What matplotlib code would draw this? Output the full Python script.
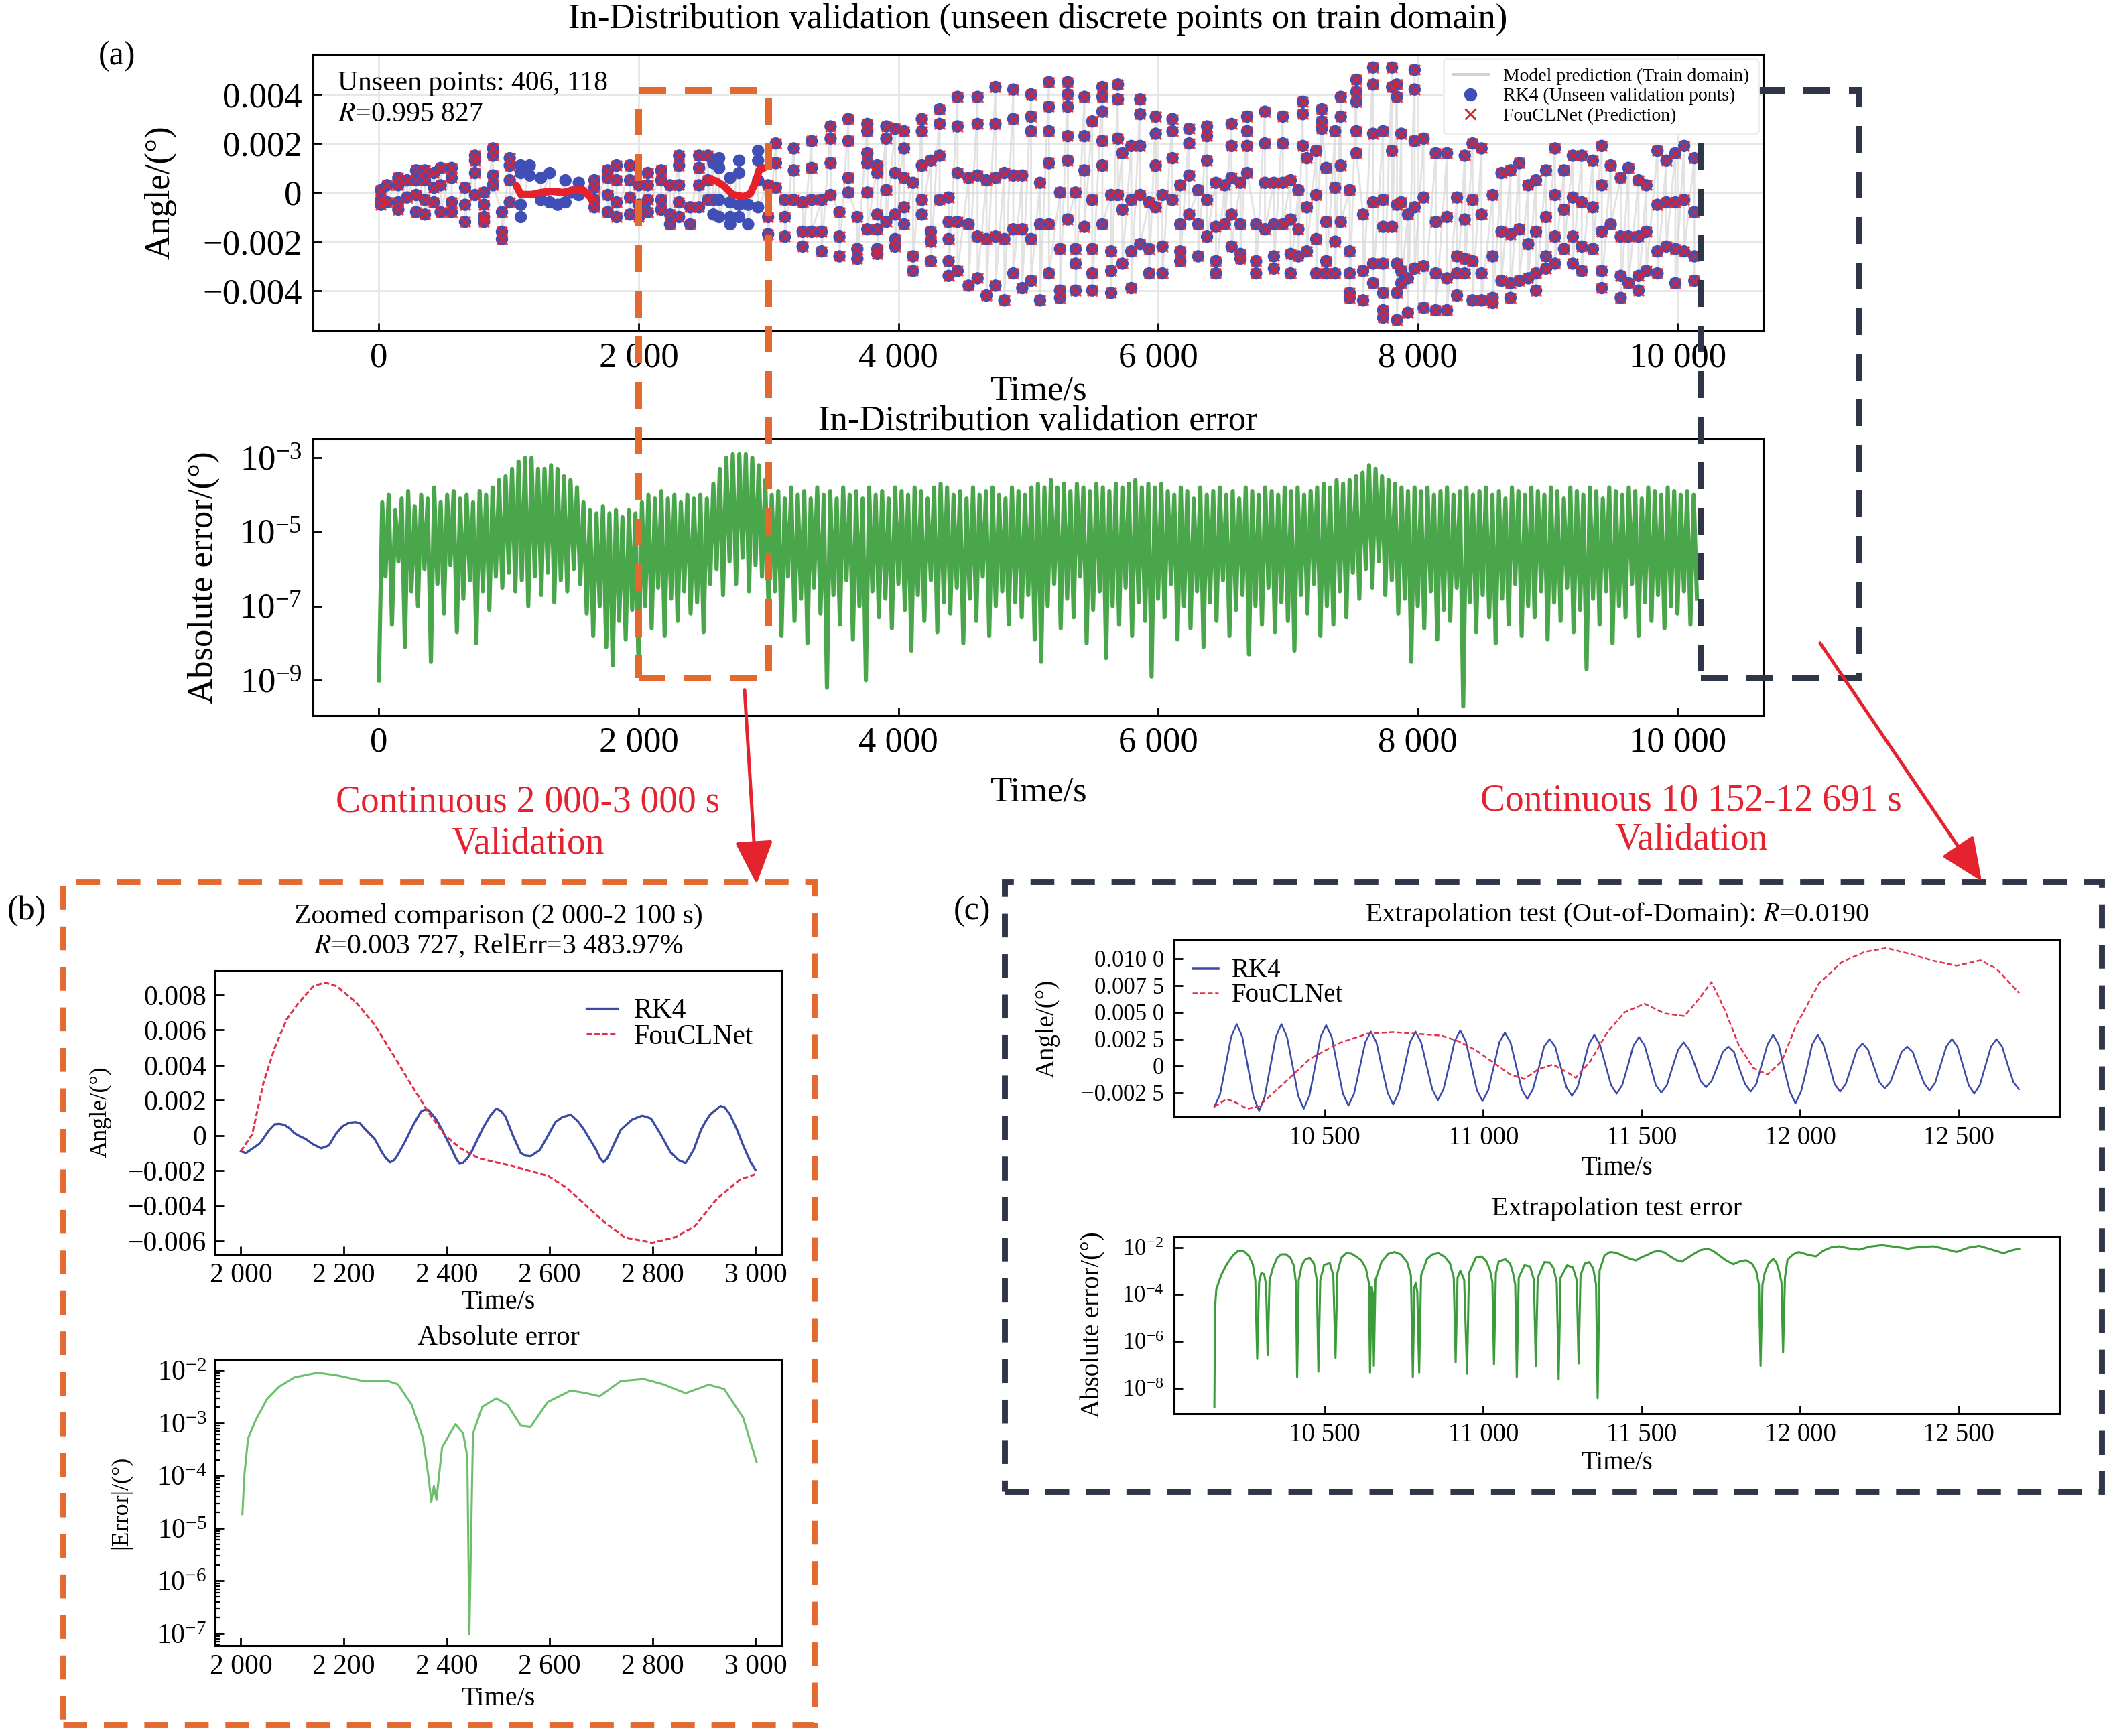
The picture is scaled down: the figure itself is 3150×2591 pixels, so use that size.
import numpy as np
import matplotlib
matplotlib.use("Agg")
import matplotlib.pyplot as plt
from matplotlib.ticker import FuncFormatter, FixedLocator, LogLocator, NullLocator, LogFormatterSciNotation
from matplotlib.patches import Rectangle, FancyArrowPatch
from matplotlib.lines import Line2D

plt.rcParams['font.family'] = ['Liberation Serif', 'DejaVu Serif']
plt.rcParams['mathtext.fontset'] = 'stix'

# colours
c_dot = '#3f4fb5'
c_x = '#e8202a'
c_rk4 = '#3a4aa6'
c_fou = '#e3304a'
c_orange = '#e3692f'
c_dark = '#2e3648'
c_arrow = '#e5232e'

# ---------------- panel (a) data ----------------
# unseen validation points, grouped in columns (time in s, angle in 1e-4 deg)
a_col_t = [
    15, 63, 149, 217, 286, 354, 423, 475, 560, 663, 740, 809, 878, 947, 1007,
    1092, 1161, 1247, 1315, 1376, 1436, 1487, 1539, 1659, 1762, 1830, 1933,
    2002, 2071, 2174, 2242, 2311, 2397, 2465, 2534, 2575, 2620, 2705, 2774, 2843, 2920, 2997,
    3057, 3126, 3195, 3263, 3332, 3409, 3478, 3546, 3615, 3684, 3761, 3838, 3907, 3975,
    4044, 4113, 4181, 4250, 4318, 4387, 4456, 4541, 4610, 4679, 4748, 4816, 4885, 4954,
    5022, 5091, 5160, 5245, 5305, 5365, 5433, 5493, 5571, 5639, 5691, 5725, 5794, 5862, 5931, 5982,
    6034, 6111, 6171, 6240, 6309, 6377, 6446, 6514, 6566, 6635, 6686, 6755, 6823, 6892, 6961,
    7021, 7081, 7115, 7146, 7218, 7261, 7295, 7364, 7407, 7476, 7527, 7579, 7656, 7733, 7802, 7840, 7873, 7924, 7976,
    8045, 8139, 8225, 8302, 8362, 8422, 8491, 8577, 8645, 8714, 8782, 8851, 8911, 8988,
    9057, 9126, 9194, 9263, 9349, 9417, 9486, 9563, 9623, 9700, 9761, 9846, 9915, 9984,
    10052, 10130]
a_col_y = [
    [1, -3, -5], [3, -4], [6, 3, -4, -7], [5, -2], [9, 5, -1, -8], [9, 5, -3, -9], [8, 2, -4], [10, 3, -8],
    [10, 6, -4, -8], [2, -5, -12], [15, 13, 8, -1], [0, -5, -10, -12], [18, 15, 7, 3], [-8, -16, -19], [14, 11, 5, -4],
    [11, 8, -5, -10], [11, 7], [6, -3], [8, -4], [-5], [5, -4], [0], [4, -1], [5, 2, -3, -6], [9, 6, -1, -8],
    [11, 5, -4, -10], [11, 5, -2, -9],
    [3, -5, -10], [8, 3, -3, -8], [9, 5, -3, -7], [3, -9, -13], [15, 11, 3, -4, -10], [-6, -13], [15, 10, 3, -6],
    [15, 5, -3], [12, -3, -9], [14, 10, -3, -10], [6, -4, -10, -13], [13, 8, -5, -10], [-5, -13], [17, 13, 5, -6],
    [3, -10, -17],
    [20, 12, 2], [-3, -10, -18], [18, 9, -3], [-4, -16, -22], [21, 10, -3, -16], [-3, -16, -24], [27, 22, 12, -1],
    [-8, -18, -26], [30, 21, 6, 0], [-10, -23, -27], [28, 25, 16, 12, 0, -15], [11, 8, -9, -15, -23, -25],
    [27, 22, 1, -12], [26, 8, -9, -19, -22],
    [25, 18, 6, -6, -13], [4, -26, -32], [30, 25, 11, -3, -9], [13, -16, -20, -28], [34, 28, 15, -3],
    [-2, -12, -19, -28, -34], [39, 27, 8, -12, -32], [6, -13, -38], [39, 28, 7, -18, -35], [5, -19, -42],
    [43, 28, 6, -18, -38], [8, -19, -44], [42, 30, 7, -15, -33], [7, -15, -39],
    [40, 31, 25, -19, -36], [4, -13, -44], [45, 35, 25, 12, -13, -33], [0, -23, -40, -43], [45, 40, 35, 23, 13, -11],
    [0, -23, -29, -40], [39, 23, 9, -14], [29, -3, -23, -33, -40], [43, 39, 33, 21, 11, -13], [-1, -24, -32, -41],
    [44, 38, 22, -1], [16, -7, -29], [19, -3, -24, -39], [38, 32, 19, -1, -21], [-4, -23, -33], [31, 24, 11, -6],
    [-1, -22, -33], [30, 25, 14, -3], [3, -13, -24, -28], [26, 20, 7, -9], [1, -13, -26], [27, 23, 13, -3, -18],
    [4, -14, -28, -33], [3, -13], [28, 19, 6, -9, -22], [4, -13, -25, -27], [31, 25, 19, 8], [-13, -28, -33],
    [33, 20, 4, -15], [4, -13, -26, -31], [31, 20, 4, -13],
    [5, -11, -25, -33], [1, -15, -26], [37, 32, 19], [14, -6, -24], [17, -1, -19, -33], [34, 29, 26],
    [10, -12, -28, -33], [25, 2, -20, -33], [39, 31, 11, -12], [1, -24, -33, -41, -43], [46, 41, 37, 25, 16],
    [-9, -32, -44], [51, 44, 24, -4, -29, -37], [25, -3, -14, -29, -41, -48, -51], [51, 43, 17, -14],
    [44, 39, -5, -29, -41, -52], [24, -4, -32, -37], [-9, -35, -49], [50, 42, 21, -6, -31],
    [22, -2, -30, -47], [16, -12, -33, -48], [16, -10, -35, -48], [-2, -26, -33, -42], [15, -11, -27, -33],
    [20, -3, -28, -44], [18, -9, -33, -44], [-1, -26, -43, -45], [8, -16, -36], [9, -17, -37, -43],
    [12, -15, -36], [3, -21, -35], [5, -16, -33, -40], [9, -10, -26, -31],
    [18, -1, -18, -29], [9, -7, -23], [15, -2, -18, -29], [15, -4, -22, -32], [13, -6, -23], [19, 3, -16, -32, -39],
    [11, -13], [6, -18, -34, -43], [10, -18, -37], [5, -18, -34, -40], [3, -16, -32], [17, -5, -24, -33],
    [13, -4, -22], [16, -4, -23, -37],
    [19, -3, -24], [14, -8, -26, -36]]

# time windows where FouCLNet collapses to a flat line
fail_windows = [(1050, 1620), (2545, 2970)]
a_fou_seg1_t = [1058, 1092, 1178, 1247, 1333, 1418, 1504, 1573, 1607, 1641]
a_fou_seg1_y = [2.8, -0.8, -0.8, 0, 0.5, 0, 1, 1, -0.8, -2.6]
a_fou_seg2_t = [2551, 2602, 2654, 2723, 2808, 2860, 2903, 2928, 2963]
a_fou_seg2_y = [5.5, 4.6, 2.8, -0.8, -1.7, -0.4, 4.6, 9.2, 10]

# in-distribution absolute error, log10 in tenths, one value every 25 s
err_step = 25
err_exp = [
    -90, -42, -62, -40, -75, -44, -58, -41, -81, -39, -66, -43, -70, -40, -60, -41, -85, -38, -64, -42,
    -72, -40, -59, -39, -77, -41, -68, -40, -63, -42, -80, -39, -66, -40, -71, -38, -62, -36, -65, -35,
    -61, -33, -66, -31, -63, -30, -70, -30, -62, -33, -67, -33, -61, -32, -69, -33, -63, -35, -66, -36,
    -60, -38, -64, -42, -72, -44, -78, -45, -70, -43, -81, -45, -86, -44, -74, -46, -79, -44, -71, -45,
    -88, -42, -70, -40, -76, -41, -65, -39, -78, -41, -68, -40, -74, -42, -66, -40, -72, -41, -69, -40,
    -77, -41, -64, -37, -60, -33, -67, -30, -58, -29, -64, -29, -57, -29, -66, -30, -59, -32, -62, -36,
    -70, -40, -66, -39, -78, -41, -62, -38, -74, -40, -68, -39, -80, -41, -65, -38, -72, -40, -92, -39,
    -67, -41, -75, -38, -63, -40, -79, -39, -70, -41, -90, -38, -66, -40, -73, -39, -68, -41, -76, -38,
    -64, -39, -71, -40, -82, -38, -67, -39, -74, -41, -63, -38, -77, -37, -69, -38, -72, -40, -65, -39,
    -80, -41, -68, -38, -74, -40, -62, -39, -78, -38, -70, -40, -66, -41, -75, -38, -69, -39, -73, -40,
    -67, -38, -79, -37, -85, -38, -70, -36, -64, -38, -76, -37, -68, -39, -73, -37, -62, -38, -80, -39,
    -71, -37, -66, -38, -84, -39, -70, -37, -75, -38, -65, -37, -78, -36, -69, -38, -74, -37, -89, -38,
    -68, -37, -73, -39, -64, -40, -79, -38, -70, -39, -76, -41, -66, -38, -81, -40, -69, -39, -74, -38,
    -63, -40, -78, -39, -71, -41, -67, -38, -83, -39, -70, -40, -75, -38, -65, -39, -77, -40, -69, -38,
    -74, -39, -82, -38, -67, -40, -72, -39, -64, -38, -78, -37, -70, -38, -75, -36, -66, -37, -73, -36,
    -61, -35, -68, -34, -60, -32, -65, -33, -58, -35, -67, -36, -63, -37, -72, -38, -68, -39, -85, -38,
    -70, -39, -76, -38, -66, -40, -79, -39, -71, -38, -74, -40, -65, -39, -97, -38, -69, -40, -77, -39,
    -67, -38, -73, -40, -80, -39, -68, -41, -75, -38, -64, -39, -78, -40, -70, -38, -73, -39, -66, -40,
    -79, -38, -69, -39, -74, -41, -65, -38, -77, -39, -71, -40, -87, -38, -68, -39, -75, -41, -66, -38,
    -80, -39, -70, -40, -73, -38, -64, -39, -78, -41, -69, -38, -74, -39, -67, -40, -76, -38, -70, -39,
    -72, -40, -66, -39, -75, -40, -68]

# ---------------- panel (b) data ----------------
b_rk4_t = [2000, 2010, 2037, 2055, 2066, 2075, 2085, 2095, 2104, 2115, 2126, 2140, 2156, 2171, 2185,
           2197, 2210, 2223, 2232, 2240, 2260, 2275, 2282, 2290, 2298, 2305, 2320, 2335, 2350, 2357,
           2365, 2380, 2391, 2410, 2418, 2425, 2432, 2440, 2447, 2470, 2484, 2496, 2505, 2514, 2530,
           2544, 2553, 2563, 2581, 2595, 2611, 2625, 2641, 2655, 2667, 2690, 2698, 2705, 2712, 2720,
           2738, 2760, 2779, 2786, 2797, 2815, 2835, 2850, 2864, 2870, 2880, 2894, 2903, 2912, 2932,
           2940, 2950, 2963, 2976, 2990, 3000]
b_rk4_y = [-9, -10, -4.5, 3, 6.4, 6.6, 6, 4, 1.3, -0.5, -2, -5, -7.3, -5.7, 1,
           5.1, 7.2, 7.6, 6.8, 4, -2, -10, -13, -15.3, -14, -11, -3, 6, 13.6, 14.6,
           14.4, 9, 3.2, -8, -13, -16.2, -15.5, -13, -10, 4, 11, 15.3, 14, 10.8, -1,
           -10, -11.5, -11.8, -8.3, -1, 7.6, 10.5, 11.8, 8, 3.2, -8, -13, -15.3, -13, -8,
           3.2, 9, 11.2, 10.8, 9.6, 1, -9.6, -14, -15.7, -13, -8, 3.2, 8, 12, 16.8,
           16, 12.1, 4, -5.7, -15, -19.7]
b_fou_t = [2000, 2022, 2044, 2066, 2089, 2111, 2141, 2163, 2186, 2223, 2260, 2298, 2335, 2365, 2395,
           2425, 2462, 2522, 2597, 2634, 2671, 2709, 2746, 2799, 2843, 2881, 2925, 2970, 3000]
b_fou_y = [-9, 0.6, 30, 50, 66, 75, 85, 87, 85, 76, 63, 45, 27, 13, 0.6,
           -7, -13, -17, -23, -30, -40, -50, -58, -61, -58, -52, -36, -25, -22]
b_err_t = [2003, 2007, 2014, 2029, 2051, 2074, 2104, 2149, 2186, 2238, 2283, 2305, 2332, 2354, 2365,
           2370, 2375, 2380, 2391, 2417, 2432, 2440, 2444, 2451, 2469, 2496, 2518, 2544, 2563, 2596,
           2641, 2671, 2697, 2738, 2783, 2820, 2864, 2909, 2939, 2976, 3002]
b_err_log = [-4.73, -3.97, -3.29, -2.94, -2.54, -2.31, -2.13, -2.04, -2.09, -2.2, -2.19, -2.26, -2.65, -3.29, -4.05,
             -4.5, -4.2, -4.46, -3.46, -3.02, -3.2, -3.63, -7.02, -3.2, -2.69, -2.53, -2.65, -3.05, -3.07, -2.6,
             -2.38, -2.43, -2.49, -2.2, -2.16, -2.26, -2.43, -2.27, -2.35, -2.9, -3.74]

# ---------------- panel (c) data ----------------
c_t0, c_dt = 10152, 17.625
c_rk4_y = [
    -38, -27, 0, 27, 39, 27, -1, -29,  -42, -29, -1, 27, 39, 27, 0, -28,
    -40, -28, -1, 27, 38, 27, 0, -26,  -37, -26, -2, 22, 32, 22, -2, -25,
    -36, -25, -2, 22, 32, 22, 0, -22,  -32, -22, 0, 23, 33, 23, 0, -23,
    -33, -23, -1, 22, 31, 22, 0, -22,  -31, -22, -3, 18, 25, 18, -1, -20,
    -28, -20, 0, 20, 29, 20, 1, -18,  -26, -18, 0, 19, 27, 19, 1, -18,
    -25, -18, -1, 15, 22, 15, 1, -14,  -20, -14, -1, 13, 18, 13, -3, -17,
    -24, -17, 2, 20, 29, 20, -3, -24,  -35, -24, -3, 20, 29, 20, 2, -17,
    -24, -17, -1, 15, 21, 15, 0, -15,  -21, -15, -1, 13, 18, 13, -2, -16,
    -23, -16, 1, 18, 25, 18, 0, -18,  -26, -18, 0, 18, 25, 18, 1, -15,
    -22]
c_fou_t = [10152, 10191, 10218, 10255, 10291, 10363, 10453, 10543, 10634, 10715, 10796, 10868, 10922,
           10976, 11031, 11085, 11130, 11175, 11220, 11265, 11292, 11338, 11392, 11446, 11509, 11572,
           11635, 11681, 11720, 11762, 11807, 11852, 11897, 11942, 11987, 12060, 12132, 12204, 12272,
           12348, 12421, 12493, 12569, 12619, 12691]
c_fou_y = [-38, -31, -34, -40, -38, -18.5, 6.5, 21, 30, 31.5, 29.8, 28.3, 23,
           14.8, 3.3, -8.1, -12.3, -2.9, 1.2, -6, -11.2, 4.4, 31.5, 50, 58, 49,
           46.5, 62.7, 78.3, 52.3, 19, -1.9, -8.1, 4.4, 37.7, 77.3, 97, 106.5, 110,
           104.4, 98, 93.5, 98.5, 90.8, 68]
# extrapolation error: (time s, log10 error)
c_err_pts = [
    (10152, -8.8), (10154, -4.6), (10158, -3.8), (10173, -3.2), (10190, -2.75), (10210, -2.35), (10227, -2.15),
    (10245, -2.17), (10260, -2.35), (10273, -2.72), (10281, -3.4), (10287, -6.77), (10293, -3.5), (10300, -3.1),
    (10309, -3.15), (10315, -3.6), (10320, -6.6), (10326, -3.4), (10336, -2.9), (10350, -2.45), (10363, -2.3),
    (10378, -2.3), (10392, -2.45), (10403, -2.8), (10409, -3.5), (10413, -7.53), (10418, -3.4), (10428, -2.75),
    (10440, -2.5), (10453, -2.45), (10466, -2.7), (10475, -3.4), (10480, -7.3), (10486, -3.4), (10498, -2.75),
    (10516, -2.68), (10527, -3.2), (10534, -6.72), (10540, -3.1), (10552, -2.45), (10568, -2.25), (10584, -2.27),
    (10600, -2.4), (10615, -2.55), (10630, -2.9), (10639, -3.5), (10643, -7.34), (10648, -3.68), (10652, -4.0),
    (10655, -7.06), (10660, -3.4), (10679, -2.63), (10700, -2.28), (10720, -2.2), (10740, -2.3), (10760, -2.63),
    (10772, -3.2), (10778, -7.53), (10783, -3.7), (10787, -3.53), (10792, -3.9), (10798, -7.34), (10804, -3.2),
    (10823, -2.49), (10840, -2.3), (10859, -2.25), (10878, -2.4), (10895, -2.68), (10907, -3.3), (10913, -6.91),
    (10919, -3.3), (10928, -3.0), (10940, -3.4), (10949, -7.39), (10955, -3.1), (10977, -2.44), (10995, -2.39),
    (11010, -2.6), (11022, -3.0), (11029, -3.5), (11034, -7.0), (11040, -3.1), (11049, -2.6), (11070, -2.51),
    (11085, -2.7), (11094, -3.1), (11101, -3.6), (11106, -7.53), (11112, -3.3), (11130, -2.77), (11148, -2.82),
    (11160, -3.4), (11166, -7.06), (11172, -3.3), (11193, -2.63), (11210, -2.65), (11222, -2.9), (11232, -3.5),
    (11238, -7.63), (11244, -3.3), (11265, -2.77), (11283, -2.87), (11295, -3.4), (11301, -6.96), (11307, -3.2),
    (11320, -2.7), (11334, -2.63), (11347, -2.9), (11356, -3.6), (11361, -8.44), (11367, -3.0), (11383, -2.34),
    (11400, -2.2), (11419, -2.23), (11446, -2.39), (11465, -2.5), (11482, -2.56), (11500, -2.42), (11518, -2.32),
    (11536, -2.2), (11554, -2.15), (11572, -2.22), (11590, -2.39), (11610, -2.55), (11626, -2.61), (11645, -2.45),
    (11662, -2.3), (11685, -2.12), (11708, -2.06), (11725, -2.15), (11744, -2.34), (11765, -2.55), (11789, -2.72),
    (11810, -2.6), (11829, -2.55), (11848, -2.7), (11861, -3.0), (11870, -3.6), (11875, -7.06), (11881, -3.6),
    (11888, -3.1), (11900, -2.7), (11915, -2.49), (11925, -2.65), (11933, -3.0), (11941, -3.5), (11946, -6.49),
    (11952, -3.3), (11960, -2.53), (11978, -2.3), (11996, -2.2), (12020, -2.3), (12050, -2.39), (12072, -2.15),
    (12096, -2.01), (12123, -1.96), (12155, -2.05), (12186, -2.1), (12220, -1.97), (12258, -1.91), (12300, -1.98),
    (12339, -2.06), (12380, -1.98), (12421, -1.96), (12460, -2.08), (12493, -2.2), (12530, -2.02), (12565, -1.94),
    (12600, -2.08), (12641, -2.25), (12670, -2.12), (12691, -2.06)]


# ---------------- helpers ----------------
def thou(v, pos):
    return f"{int(round(v)):,}".replace(",", " ")


def dec3(v, pos):
    if abs(v) < 1e-12:
        return "0"
    return f"{v:.3f}".replace("-", "\u2212")


def dec4(v, pos):
    if abs(v) < 1e-12:
        return "0"
    s = f"{v:.4f}"
    return (s[:-1] + " " + s[-1]).replace("-", "\u2212")


def style(ax, size, pad):
    ax.tick_params(which='major', direction='in', length=4.5, width=1.0, labelsize=size, pad=pad,
                   top=False, right=False)
    ax.tick_params(which='minor', direction='in', length=2.5, width=0.8, top=False, right=False)
    for s in ax.spines.values():
        s.set_linewidth(1.1)


fig = plt.figure(figsize=(15.75, 12.955), dpi=200)
ax1 = fig.add_axes([0.1483, 0.8093, 0.6869, 0.1596])
ax2 = fig.add_axes([0.1483, 0.5878, 0.6869, 0.1594])
axb1 = fig.add_axes([0.1019, 0.2775, 0.2682, 0.1636])
axb2 = fig.add_axes([0.1019, 0.0521, 0.2682, 0.1648])
axc1 = fig.add_axes([0.5562, 0.3566, 0.4194, 0.1019])
axc2 = fig.add_axes([0.5562, 0.1856, 0.4194, 0.1023])

# ---------------- (a) top ----------------
pt_t = np.concatenate([np.full(len(v), t, dtype=float) for t, v in zip(a_col_t, a_col_y)])
pt_y = np.concatenate([np.asarray(v, dtype=float) for v in a_col_y]) * 1e-4
in_fail = np.zeros(len(pt_t), dtype=bool)
for lo, hi in fail_windows:
    in_fail |= (pt_t > lo) & (pt_t < hi)

ax1.grid(True, color='#e6e6e6', lw=1.0, zorder=0)
ax1.set_axisbelow(True)
ax1.plot(pt_t, pt_y, color='#cfcfcf', lw=1.0, alpha=0.6, zorder=1)
ax1.scatter(pt_t, pt_y, s=44, color=c_dot, edgecolors='none', zorder=3)
ax1.scatter(pt_t[~in_fail], pt_y[~in_fail], marker='x', s=30, color=c_x, linewidths=1.2, alpha=0.8, zorder=4)
ax1.plot(a_fou_seg1_t, np.array(a_fou_seg1_y) * 1e-4, color=c_x, lw=4, zorder=4, solid_capstyle='round')
ax1.plot(a_fou_seg2_t, np.array(a_fou_seg2_y) * 1e-4, color=c_x, lw=4, zorder=4, solid_capstyle='round')
ax1.set_xlim(-507.6, 10659.6)
ax1.set_ylim(-0.00565, 0.00565)
ax1.xaxis.set_major_locator(FixedLocator([0, 2000, 4000, 6000, 8000, 10000]))
ax1.xaxis.set_major_formatter(FuncFormatter(thou))
ax1.yaxis.set_major_locator(FixedLocator([-0.004, -0.002, 0, 0.002, 0.004]))
ax1.yaxis.set_major_formatter(FuncFormatter(dec3))
style(ax1, 19, 6)
ax1.set_title("In-Distribution validation (unseen discrete points on train domain)", fontsize=19, pad=14)
ax1.set_xlabel("Time/s", fontsize=19)
ax1.set_ylabel("Angle/(°)", fontsize=19)
ax1.xaxis.set_label_coords(0.5, -0.158)
ax1.yaxis.set_label_coords(-0.094, 0.5)
ax1.text(0.017, 0.94, "Unseen points: 406, 118\n$R$=0.995 827", transform=ax1.transAxes,
         fontsize=15, ha='left', va='top', linespacing=1.25)
handles = [Line2D([], [], color='#d0d0d0', lw=1.4),
           Line2D([], [], marker='o', ls='none', color=c_dot, ms=6),
           Line2D([], [], marker='x', ls='none', color=c_x, ms=5.5, mew=1.1)]
labels = ["Model prediction (Train domain)", "RK4 (Unseen validation ponts)", "FouCLNet (Prediction)"]
# legend lives on the figure so it sits above the dashed selection box
leg = fig.legend(handles, labels, loc='upper right', bbox_to_anchor=(1, 1), bbox_transform=ax1.transAxes,
                 fontsize=10, frameon=True, fancybox=True, framealpha=1, edgecolor='#eeeeee',
                 borderaxespad=0.25, handlelength=1.9, handletextpad=0.8, labelspacing=0.15, borderpad=0.5)
leg.set_zorder(30)

# ---------------- (a) error ----------------
err_t = err_step * np.arange(len(err_exp))
err_v = 10.0 ** (np.array(err_exp) / 10.0)
ax2.plot(err_t, err_v, color='#4aa64a', lw=2.2)
ax2.set_yscale('log')
ax2.set_xlim(-507.6, 10659.6)
ax2.set_ylim(10 ** -9.95, 10 ** -2.49)
ax2.xaxis.set_major_locator(FixedLocator([0, 2000, 4000, 6000, 8000, 10000]))
ax2.xaxis.set_major_formatter(FuncFormatter(thou))
ax2.yaxis.set_major_locator(FixedLocator([1e-9, 1e-7, 1e-5, 1e-3]))
ax2.yaxis.set_major_formatter(LogFormatterSciNotation())
ax2.yaxis.set_minor_locator(NullLocator())
style(ax2, 19, 6)
ax2.set_title("In-Distribution validation error", fontsize=19, pad=4.7)
ax2.set_xlabel("Time/s", fontsize=19)
ax2.set_ylabel("Absolute error/(°)", fontsize=19)
ax2.xaxis.set_label_coords(0.5, -0.219)
ax2.yaxis.set_label_coords(-0.0644, 0.5)

# ---------------- (b) ----------------
axb1.plot(b_rk4_t, np.array(b_rk4_y) * 1e-4, color=c_rk4, lw=1.2, label='RK4')
axb1.plot(b_fou_t, np.array(b_fou_y) * 1e-4, color=c_fou, lw=1.1, ls=(0, (2.6, 1.2)), label='FouCLNet')
axb1.set_xlim(1950, 3050)
axb1.set_ylim(-0.00676, 0.0094)
axb1.xaxis.set_major_locator(FixedLocator([2000, 2200, 2400, 2600, 2800, 3000]))
axb1.xaxis.set_major_formatter(FuncFormatter(thou))
axb1.yaxis.set_major_locator(FixedLocator([-0.006, -0.004, -0.002, 0, 0.002, 0.004, 0.006, 0.008]))
axb1.yaxis.set_major_formatter(FuncFormatter(dec3))
style(axb1, 15, 4.5)
axb1.set_title("Zoomed comparison (2 000-2 100 s)\n$R$=0.003 727, RelErr=3 483.97%", fontsize=15, pad=9,
               linespacing=1.15)
axb1.set_xlabel("Time/s", fontsize=14.5)
axb1.set_ylabel("Angle/(°)", fontsize=13)
axb1.xaxis.set_label_coords(0.5, -0.125)
axb1.yaxis.set_label_coords(-0.1826, 0.5)
axb1.legend(loc='upper right', frameon=False, fontsize=15, handlelength=1.1, handletextpad=0.6,
            labelspacing=0.0, borderaxespad=0.6)

axb2.plot(b_err_t, 10.0 ** np.array(b_err_log), color='#6cc06c', lw=1.1)
axb2.set_yscale('log')
axb2.set_xlim(1950, 3050)
axb2.set_ylim(10 ** -7.23, 10 ** -1.79)
axb2.xaxis.set_major_locator(FixedLocator([2000, 2200, 2400, 2600, 2800, 3000]))
axb2.xaxis.set_major_formatter(FuncFormatter(thou))
axb2.yaxis.set_major_locator(FixedLocator([1e-7, 1e-6, 1e-5, 1e-4, 1e-3, 1e-2]))
axb2.yaxis.set_major_formatter(LogFormatterSciNotation())
axb2.yaxis.set_minor_locator(LogLocator(base=10, subs=np.arange(2, 10), numticks=20))
style(axb2, 15, 4.5)
axb2.set_title("Absolute error", fontsize=15, pad=8)
axb2.set_xlabel("Time/s", fontsize=14.5)
axb2.set_ylabel("|Error|/(°)", fontsize=13)
axb2.xaxis.set_label_coords(0.5, -0.142)
axb2.yaxis.set_label_coords(-0.147, 0.5)

# ---------------- (c) ----------------
c_t = c_t0 + c_dt * np.arange(len(c_rk4_y))
axc1.plot(c_t, np.array(c_rk4_y) * 1e-4, color=c_rk4, lw=0.9, label='RK4')
axc1.plot(c_fou_t, np.array(c_fou_y) * 1e-4, color=c_fou, lw=0.9, ls=(0, (3, 1.5)), label='FouCLNet')
axc1.set_xlim(10025, 12818)
axc1.set_ylim(-0.00477, 0.01175)
axc1.xaxis.set_major_locator(FixedLocator([10500, 11000, 11500, 12000, 12500]))
axc1.xaxis.set_major_formatter(FuncFormatter(thou))
axc1.yaxis.set_major_locator(FixedLocator([-0.0025, 0, 0.0025, 0.005, 0.0075, 0.01]))
axc1.yaxis.set_major_formatter(FuncFormatter(dec4))
style(axc1, 14, 4.5)
axc1.tick_params(axis='y', labelsize=12.5, pad=5.5)
axc1.set_title("Extrapolation test (Out-of-Domain): $R$=0.0190", fontsize=14.5, pad=10)
axc1.set_xlabel("Time/s", fontsize=14)
axc1.set_ylabel("Angle/(°)", fontsize=14)
axc1.xaxis.set_label_coords(0.5, -0.22)
axc1.yaxis.set_label_coords(-0.129, 0.5)
axc1.legend(loc='upper left', frameon=False, fontsize=14, handlelength=1.0, handletextpad=0.5,
            labelspacing=0.0, borderaxespad=0.3)

c_err_t = [p[0] for p in c_err_pts]
c_err_v = [10.0 ** p[1] for p in c_err_pts]
axc2.plot(c_err_t, c_err_v, color='#3c9c3c', lw=1.1)
axc2.set_yscale('log')
axc2.set_xlim(10025, 12818)
axc2.set_ylim(10 ** -9.1, 10 ** -1.53)
axc2.xaxis.set_major_locator(FixedLocator([10500, 11000, 11500, 12000, 12500]))
axc2.xaxis.set_major_formatter(FuncFormatter(thou))
axc2.yaxis.set_major_locator(FixedLocator([1e-8, 1e-6, 1e-4, 1e-2]))
axc2.yaxis.set_major_formatter(LogFormatterSciNotation())
axc2.yaxis.set_minor_locator(NullLocator())
style(axc2, 14, 4.5)
axc2.tick_params(axis='y', labelsize=12.5, pad=5.5)
axc2.set_title("Extrapolation test error", fontsize=14.5, pad=11)
axc2.set_xlabel("Time/s", fontsize=14)
axc2.set_ylabel("Absolute error/(°)", fontsize=14)
axc2.xaxis.set_label_coords(0.5, -0.207)
axc2.yaxis.set_label_coords(-0.0776, 0.5)

# ---------------- annotations ----------------
dash = (0, (4, 2.8))
boxes = [((0.3025, 0.6094), 0.3641 - 0.3025, 0.9479 - 0.6094, c_orange, 3.6),
         ((0.8057, 0.6094), 0.8806 - 0.8057, 0.9479 - 0.6094, c_dark, 3.6),
         ((0.0298, 0.0066), 0.3559, 0.4855, c_orange, 3.2),
         ((0.4759, 0.1409), 0.5197, 0.3512, c_dark, 3.2)]
for xy, w, h, col, lw in boxes:
    fig.add_artist(Rectangle(xy, w, h, transform=fig.transFigure, fill=False, ec=col, lw=lw,
                             ls=dash, zorder=20, clip_on=False))

for a, b in [((0.3527, 0.6026), (0.3584, 0.4907)), ((0.8622, 0.6296), (0.9388, 0.4923))]:
    fig.add_artist(FancyArrowPatch(a, b, transform=fig.transFigure,
                                   arrowstyle='-|>,head_length=0.5,head_width=0.22', mutation_scale=40,
                                   color=c_arrow, lw=1.8, shrinkA=0, shrinkB=0, zorder=25))

fig.text(0.25, 0.5258, "Continuous 2 000-3 000 s\nValidation", ha='center', va='center',
         color=c_arrow, fontsize=20, linespacing=1.25)
fig.text(0.801, 0.5274, "Continuous 10 152-12 691 s\nValidation", ha='center', va='center',
         color=c_arrow, fontsize=20, linespacing=1.17)
fig.text(0.0555, 0.9676, "(a)", fontsize=18, ha='center', va='center')
fig.text(0.0128, 0.4753, "(b)", fontsize=18, ha='center', va='center')
fig.text(0.4605, 0.4753, "(c)", fontsize=18, ha='center', va='center')

fig.savefig("out.png", dpi=200)
